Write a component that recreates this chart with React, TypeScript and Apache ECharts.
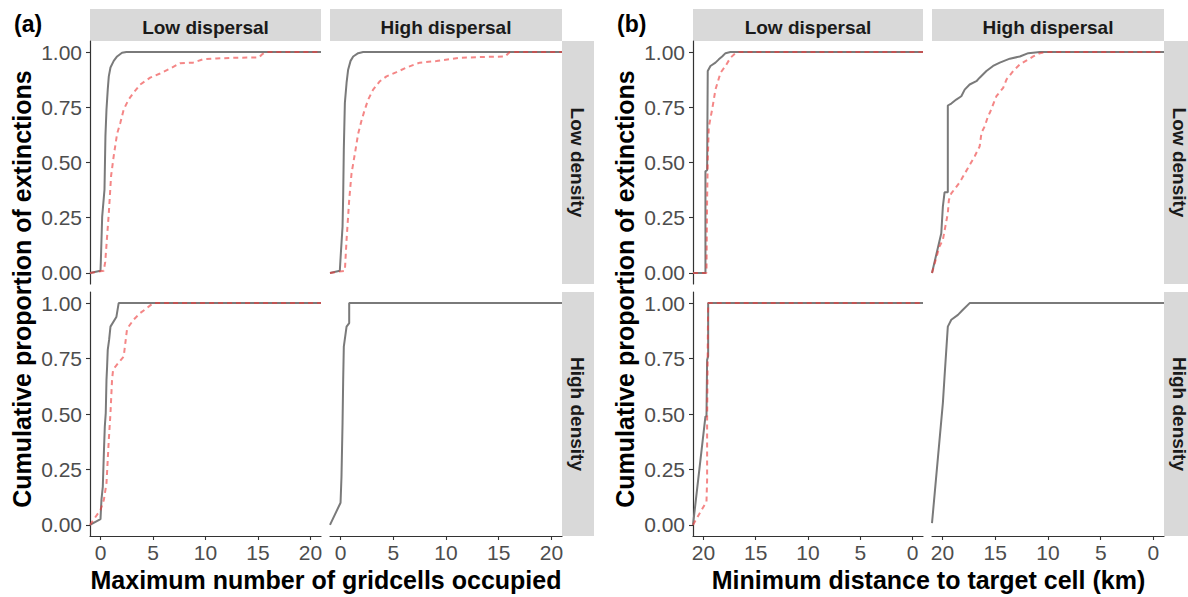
import React, { useEffect, useRef } from "react";
import * as echarts from "echarts";

// ---------- data ----------
const dispersalLevels = ["Low dispersal", "High dispersal"];
const densityLevels = ["Low density", "High density"];
const yTicks = [0, 0.25, 0.5, 0.75, 1];
const xTicks = [0, 5, 10, 15, 20];
const panelTags = ["(a)", "(b)"];
const xTitles = ["Maximum number of gridcells occupied", "Minimum distance to target cell (km)"];
const yTitle = "Cumulative proportion of extinctions";

// (a) maximum number of gridcells occupied
const aLowDispLowDensGray = [[-1,0],[0,0.01],[0.03,0.05],[0.16,0.255],[0.38,0.377],[0.47,0.62],[0.57,0.74],[0.69,0.83],[0.79,0.89],[0.95,0.93],[1.26,0.96],[1.58,0.98],[2.05,0.997],[2.46,1],[21,1]];
const aLowDispLowDensRed = [[-1,0],[0.31,0.01],[0.45,0.05],[0.57,0.127],[0.79,0.27],[1.01,0.44],[1.26,0.53],[1.58,0.63],[1.89,0.68],[2.21,0.74],[2.68,0.785],[3.15,0.816],[3.78,0.853],[4.73,0.884],[5.67,0.903],[6.62,0.925],[7.56,0.949],[8.82,0.952],[9.76,0.967],[11.03,0.971],[12.6,0.974],[15.1,0.976],[15.4,0.99],[15.75,1],[21,1]];
const aHighDispLowDensGray = [[-1,0],[-0.07,0.01],[0.03,0.09],[0.19,0.21],[0.25,0.35],[0.31,0.56],[0.41,0.77],[0.57,0.86],[0.72,0.92],[0.95,0.96],[1.2,0.98],[1.67,0.995],[2.14,1],[21,1]];
const aHighDispLowDensRed = [[-1,0],[0.41,0.01],[0.57,0.15],[0.82,0.33],[1.04,0.45],[1.36,0.54],[1.67,0.63],[1.99,0.69],[2.3,0.74],[2.62,0.785],[3.09,0.83],[3.73,0.868],[4.36,0.89],[5.31,0.909],[6.26,0.93],[7.52,0.952],[9.1,0.959],[11.3,0.974],[13.8,0.978],[15.6,0.98],[16.05,1],[21,1]];
const aLowDispHighDensGray = [[-1,0],[0,0.026],[0.09,0.113],[0.22,0.173],[0.32,0.323],[0.41,0.443],[0.5,0.504],[0.57,0.654],[0.63,0.714],[0.69,0.789],[0.82,0.834],[0.95,0.894],[1.51,0.937],[1.73,1],[21,1]];
const aLowDispHighDensRed = [[-1,0],[0,0.068],[0.32,0.113],[0.57,0.188],[0.79,0.383],[0.95,0.504],[1.1,0.654],[1.2,0.699],[1.42,0.714],[2.21,0.759],[2.52,0.88],[2.68,0.894],[3.15,0.925],[3.78,0.955],[4.41,0.977],[4.88,0.995],[5.04,1],[21,1]];
const aHighDispHighDensGray = [[-1,0],[0,0.1],[0.09,0.218],[0.19,0.459],[0.25,0.654],[0.31,0.804],[0.57,0.894],[0.82,0.91],[0.82,1],[21,1]];
const aHighDispHighDensRed: number[][] = [];

// (b) minimum distance to target cell (km)
const bLowDispLowDensGray = [[21,0],[19.81,0],[19.81,0.46],[19.65,0.465],[19.59,0.914],[19.33,0.937],[18.85,0.952],[18.53,0.967],[18.21,0.98],[17.89,0.995],[17.42,1],[-1,1]];
const bLowDispLowDensRed = [[21,0],[19.71,0],[19.65,0.33],[19.59,0.51],[19.49,0.66],[19.17,0.74],[18.85,0.83],[18.37,0.906],[17.89,0.937],[17.42,0.974],[16.94,0.995],[16.62,1],[-1,1]];
const bHighDispLowDensGray = [[21,0],[20.12,0.18],[19.97,0.3],[19.81,0.365],[19.5,0.365],[19.5,0.758],[19.17,0.767],[18.7,0.785],[18.22,0.8],[17.9,0.83],[17.43,0.853],[16.79,0.868],[16.48,0.884],[15.84,0.914],[15.21,0.937],[14.57,0.952],[13.62,0.97],[12.67,0.98],[11.87,0.995],[10.76,1],[-1,1]];
const bHighDispLowDensRed = [[21,0],[20.29,0.12],[19.97,0.15],[19.5,0.27],[19.4,0.33],[19.17,0.36],[18.38,0.41],[17.59,0.475],[16.95,0.528],[16.48,0.573],[16.31,0.634],[16.0,0.664],[15.68,0.71],[15.52,0.725],[14.89,0.8],[14.25,0.838],[13.93,0.876],[13.3,0.914],[12.67,0.944],[11.87,0.967],[11.4,0.98],[10.76,0.995],[10.12,1],[-1,1]];
const bLowDispHighDensGray = [[21,0],[19.81,0.489],[19.71,0.489],[19.65,0.744],[19.55,0.76],[19.55,1],[-1,1]];
const bLowDispHighDensRed = [[21,0],[19.71,0.105],[19.65,0.203],[19.65,0.47],[19.59,0.8],[19.55,1],[-1,1]];
const bHighDispHighDensGray = [[21,0.008],[19.97,0.549],[19.81,0.669],[19.5,0.894],[19.17,0.925],[18.54,0.947],[18.07,0.97],[17.43,1],[-1,1]];
const bHighDispHighDensRed: number[][] = [];

// ---------- layout / style ----------
const FONT = '"Liberation Sans", Arial, sans-serif';
const GRAY = "#7A7A7A";
const RED = "rgba(238, 60, 60, 0.62)";
const AXIS = "#333333";
const TICKTXT = "#4D4D4D";

const colLeft = [[90, 330], [693, 932]];
const colWidth = [[231, 232], [230, 232]];
const rowTop = [41, 292];
const rowHeight = [243, 244];

const seriesData = [
  [
    [[aLowDispLowDensGray, aLowDispLowDensRed], [aHighDispLowDensGray, aHighDispLowDensRed]],
    [[aLowDispHighDensGray, aLowDispHighDensRed], [aHighDispHighDensGray, aHighDispHighDensRed]],
  ],
  [
    [[bLowDispLowDensGray, bLowDispLowDensRed], [bHighDispLowDensGray, bHighDispLowDensRed]],
    [[bLowDispHighDensGray, bLowDispHighDensRed], [bHighDispHighDensGray, bHighDispHighDensRed]],
  ],
];

function buildOption() {
  const grid: any[] = [];
  const xAxis: any[] = [];
  const yAxis: any[] = [];
  const series: any[] = [];
  const graphic: any[] = [];

  for (let p = 0; p < 2; p++) {
    for (let r = 0; r < 2; r++) {
      for (let c = 0; c < 2; c++) {
        const idx = grid.length;
        const left = colLeft[p][c];
        const width = colWidth[p][c];
        const top = rowTop[r];
        const height = rowHeight[r];
        grid.push({ left, top, width, height, containLabel: false });
        const showX = r === 1;
        const showY = c === 0;
        xAxis.push({
          type: "value",
          gridIndex: idx,
          min: -1,
          max: 21,
          inverse: p === 1,
          splitLine: { show: false },
          axisLine: { show: showX, onZero: false, lineStyle: { color: AXIS, width: 1.2 } },
          axisTick: { show: showX, length: 4, customValues: xTicks, lineStyle: { color: AXIS, width: 1.1 } },
          axisLabel: {
            show: showX,
            customValues: xTicks,
            margin: 6,
            color: TICKTXT,
            fontSize: 21,
            fontFamily: FONT,
            formatter: (v: number) => String(v),
          },
        });
        yAxis.push({
          type: "value",
          gridIndex: idx,
          min: -0.05,
          max: 1.05,
          splitLine: { show: false },
          axisLine: { show: showY, onZero: false, lineStyle: { color: AXIS, width: 1.2 } },
          axisTick: { show: showY, length: 4, customValues: yTicks, lineStyle: { color: AXIS, width: 1.1 } },
          axisLabel: {
            show: showY,
            customValues: yTicks,
            margin: 8,
            color: TICKTXT,
            fontSize: 21,
            fontFamily: FONT,
            formatter: (v: number) => v.toFixed(2),
          },
        });
        const [g, rd] = seriesData[p][r][c];
        series.push({
          type: "line",
          xAxisIndex: idx,
          yAxisIndex: idx,
          data: g,
          showSymbol: false,
          symbol: "none",
          lineStyle: { color: GRAY, width: 2 },
          z: 2,
        });
        if (rd.length) {
          series.push({
            type: "line",
            xAxisIndex: idx,
            yAxisIndex: idx,
            data: rd,
            showSymbol: false,
            symbol: "none",
            lineStyle: { color: RED, width: 2, type: [5, 4] },
            z: 3,
          });
        }
        // top strips (only top row)
        if (r === 0) {
          graphic.push({
            type: "rect",
            shape: { x: left, y: 9, width, height: 32 },
            style: { fill: "#D9D9D9" },
          });
          graphic.push({
            type: "text",
            x: left + width / 2,
            y: 27,
            style: {
              text: dispersalLevels[c],
              font: `bold 19px ${FONT}`,
              fill: "#1A1A1A",
              align: "center",
              verticalAlign: "middle",
              textAlign: "center",
              textVerticalAlign: "middle",
            },
          });
        }
        // right strips (only right column)
        if (c === 1) {
          const sx = left + width;
          graphic.push({
            type: "rect",
            shape: { x: sx, y: top, width: 32, height },
            style: { fill: "#D9D9D9" },
          });
          graphic.push({
            type: "text",
            x: sx + 15,
            y: top + height / 2,
            rotation: -Math.PI / 2,
            style: {
              text: densityLevels[r],
              font: `bold 19px ${FONT}`,
              fill: "#1A1A1A",
              align: "center",
              verticalAlign: "middle",
              textAlign: "center",
              textVerticalAlign: "middle",
            },
          });
        }
      }
    }
    // panel tag
    const pl = colLeft[p][0];
    const pr = colLeft[p][1] + colWidth[p][1];
    graphic.push({
      type: "text",
      x: pl - 76,
      y: 24,
      style: {
        text: panelTags[p],
        font: `bold 23px ${FONT}`,
        fill: "#000000",
        align: "left",
        verticalAlign: "middle",
        textAlign: "left",
        textVerticalAlign: "middle",
      },
    });
    // x title
    graphic.push({
      type: "text",
      x: (pl + pr) / 2,
      y: 580,
      style: {
        text: xTitles[p],
        font: `bold 25px ${FONT}`,
        fill: "#000000",
        align: "center",
        verticalAlign: "middle",
        textAlign: "center",
        textVerticalAlign: "middle",
      },
    });
    // y title
    graphic.push({
      type: "text",
      x: pl - 68,
      y: 289,
      rotation: Math.PI / 2,
      style: {
        text: yTitle,
        font: `bold 25px ${FONT}`,
        fill: "#000000",
        align: "center",
        verticalAlign: "middle",
        textAlign: "center",
        textVerticalAlign: "middle",
      },
    });
  }

  return {
    animation: false,
    backgroundColor: "#FFFFFF",
    grid,
    xAxis,
    yAxis,
    series,
    graphic,
  };
}

export default function App() {
  const ref = useRef<HTMLDivElement>(null);
  useEffect(() => {
    if (!ref.current) return;
    const chart = echarts.init(ref.current, undefined, { renderer: "svg" });
    chart.setOption(buildOption());
    return () => chart.dispose();
  }, []);
  return (
    <div
      ref={ref}
      style={{ position: "fixed", left: 0, top: 0, width: 1188, height: 597, background: "#fff" }}
    />
  );
}
